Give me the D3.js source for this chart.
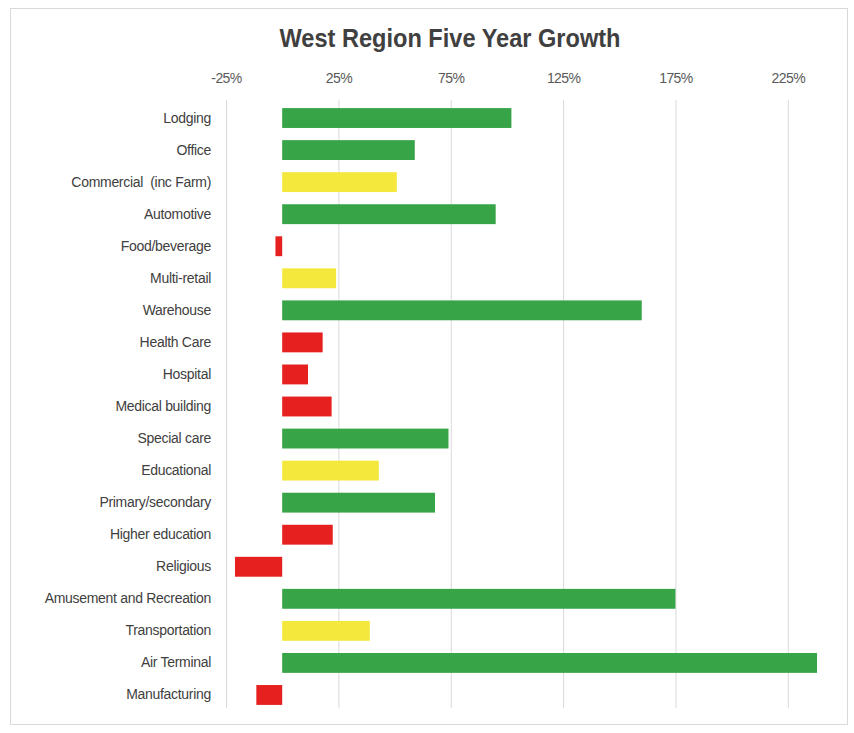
<!DOCTYPE html>
<html>
<head>
<meta charset="utf-8">
<script src="https://cdn.jsdelivr.net/npm/d3@7"></script>
<style>
  html, body { margin: 0; padding: 0; background: #ffffff; }
  svg { display: block; font-family: "Liberation Sans", Arial, sans-serif; }
</style>
</head>
<body>
<svg id="chart" width="854" height="733"></svg>
<script>
// Building categories, top to bottom
const categories = [
  "Lodging", "Office", "Commercial  (inc Farm)", "Automotive", "Food/beverage",
  "Multi-retail", "Warehouse", "Health Care", "Hospital", "Medical building",
  "Special care", "Educational", "Primary/secondary", "Higher education",
  "Religious", "Amusement and Recreation", "Transportation", "Air Terminal",
  "Manufacturing"
];

// Five-year growth, percent
const growth = [
  102, 59, 51, 95, -3,
  24, 160, 18, 11.5, 22,
  74, 43, 68, 22.5,
  -21, 175, 39, 238,
  -11.5
];

// Performance rating per category
const rating = [
  "high", "high", "mid", "high", "low",
  "mid", "high", "low", "low", "low",
  "high", "mid", "high", "low",
  "low", "high", "mid", "high",
  "low"
];

const tickValues = [-25, 25, 75, 125, 175, 225];

const svg = d3.select("#chart");
const W = 854, H = 733;

// outer chart frame
svg.append("rect")
  .attr("x", 10.5).attr("y", 8.5)
  .attr("width", 837).attr("height", 716)
  .attr("fill", "#ffffff")
  .attr("stroke", "#d9d9d9")
  .attr("stroke-width", 1);

const x = d3.scaleLinear().domain([-25, 250]).range([226, 844]);
const y = d3.scaleBand().domain(categories).range([102, 711])
  .paddingInner(0.38).paddingOuter(0.19);
const color = d3.scaleOrdinal()
  .domain(["high", "mid", "low"])
  .range(["#37a447", "#f4e83c", "#e5201f"]);

// title
svg.append("text")
  .attr("x", 450).attr("y", 47)
  .attr("text-anchor", "middle")
  .attr("font-size", 26)
  .attr("font-weight", "bold")
  .attr("fill", "#404040")
  .attr("textLength", 341)
  .attr("lengthAdjust", "spacingAndGlyphs")
  .text("West Region Five Year Growth");

// vertical gridlines
svg.append("g")
  .selectAll("line")
  .data(tickValues)
  .join("line")
  .attr("x1", d => x(d) + 0.5).attr("x2", d => x(d) + 0.5)
  .attr("y1", 100).attr("y2", 708)
  .attr("stroke", "#d9d9d9")
  .attr("stroke-width", 1);

// top axis labels
const xAxis = d3.axisTop(x)
  .tickValues(tickValues)
  .tickSize(0)
  .tickPadding(0)
  .tickFormat(d => d + "%");
const gx = svg.append("g")
  .attr("transform", "translate(0,83)")
  .call(xAxis);
gx.select(".domain").remove();
gx.selectAll("text")
  .attr("font-size", 14)
  .attr("font-family", "'Liberation Sans', Arial, sans-serif")
  .attr("fill", "#595959")
  .attr("dy", 0)
  .attr("letter-spacing", -0.6);

// category labels
const yAxis = d3.axisLeft(y).tickSize(0).tickPadding(0);
const gy = svg.append("g")
  .attr("transform", "translate(211,0)")
  .call(yAxis);
gy.select(".domain").remove();
gy.selectAll("text")
  .attr("font-size", 14)
  .attr("font-family", "'Liberation Sans', Arial, sans-serif")
  .attr("fill", "#404040")
  .attr("letter-spacing", -0.3)
  .attr("xml:space", "preserve");

// bars
const rows = categories.map((c, i) => ({ c, v: growth[i], r: rating[i] }));
svg.append("g")
  .selectAll("rect")
  .data(rows)
  .join("rect")
  .attr("x", d => x(Math.min(0, d.v)))
  .attr("y", d => y(d.c))
  .attr("width", d => Math.abs(x(d.v) - x(0)))
  .attr("height", y.bandwidth())
  .attr("fill", d => color(d.r));
</script>
</body>
</html>
